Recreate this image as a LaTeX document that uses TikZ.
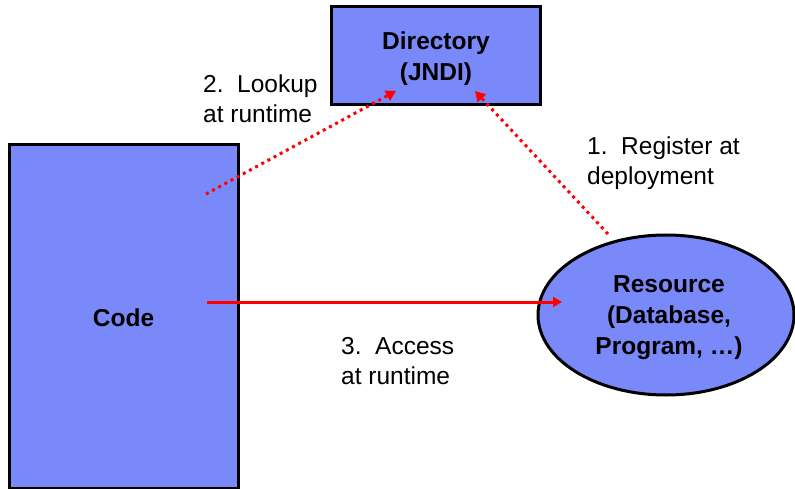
\documentclass[tikz,border=0pt]{standalone}
\usepackage{fontspec}
\setmainfont{Liberation Sans}
\usetikzlibrary{shapes.geometric,arrows.meta}
\definecolor{boxblue}{RGB}{122,137,250}
\definecolor{arrred}{RGB}{255,0,0}
\tikzset{
  blok/.style={draw=black, line width=3pt, fill=boxblue, inner sep=0pt, outer sep=0pt},
  btxt/.style={align=center, inner sep=0pt, font=\bfseries\fontsize{24.5}{31}\selectfont},
  lbl/.style={anchor=north west, align=left, inner sep=0pt, font=\fontsize{24.5}{30}\selectfont},
  dotarrow/.style={draw=arrred, line width=3pt, dash pattern=on 3pt off 4pt,
    -{Triangle[length=10pt,width=11pt]}},
  solidarrow/.style={draw=arrred, line width=3pt, -{Triangle[length=9pt,width=10pt]}}
}
\begin{document}
\begin{tikzpicture}[x=1pt,y=-1pt]
\useasboundingbox (0,0) rectangle (795,489);
\node[blok, minimum width=209pt, minimum height=98pt] (dir) at (435.5,56) {};
\node[btxt] (dirtxt) at (436,59) {Directory\\(JNDI)};
\node[blok, minimum width=229pt, minimum height=343pt] (code) at (123.5,316.5) {};
\node[btxt] (codetxt) at (123.5,318) {Code};
\node[blok, ellipse, minimum width=256pt, minimum height=160pt] (res) at (666,315) {};
\node[btxt] (restxt) at (669,318) {Resource\\(Database,\\Program, \dots)};
\coordinate (lkA) at (206,194);
\coordinate (lkB) at (396,91);
\coordinate (rgA) at (608,234);
\coordinate (rgB) at (475,91);
\coordinate (acA) at (207,302);
\coordinate (acB) at (562,302);
\draw[dotarrow, -] (lkA) -- (lkB);
\draw[dotarrow, dash pattern=on 0pt off 1000pt] (lkA) -- (lkB);
\draw[dotarrow, -] (rgA) -- (rgB);
\draw[dotarrow, dash pattern=on 0pt off 1000pt] (rgA) -- (rgB);
\draw[solidarrow] (acA) -- (acB);
\node[lbl] (l2) at (203,75) {2.\ \ Lookup\\at runtime};
\node[lbl] (l1) at (587,137) {1.\ \ Register at\\deployment};
\node[lbl] (l3) at (341,337) {3.\ \ Access\\at runtime};
\end{tikzpicture}
\end{document}
